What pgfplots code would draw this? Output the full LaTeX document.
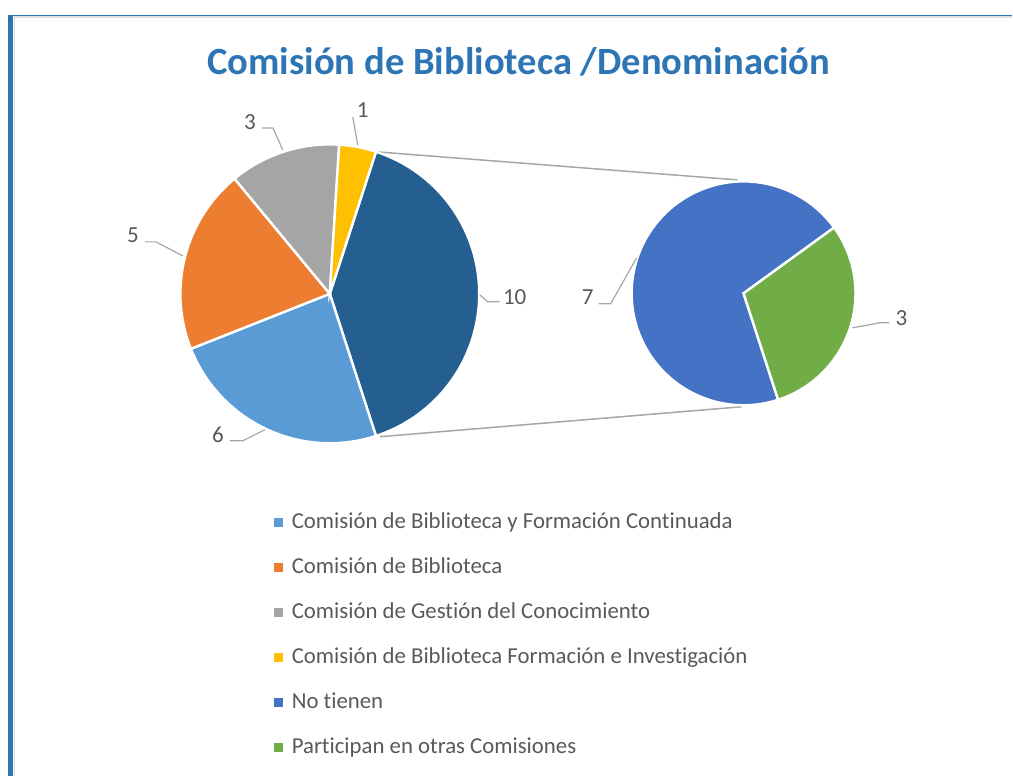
\documentclass[border=0pt]{standalone}
\usepackage{fontspec}
\setmainfont{Carlito}[Ligatures=NoCommon]
\usepackage{pgfplots}
\pgfplotsset{compat=1.18}
\definecolor{cLB}{HTML}{5B9BD5}
\definecolor{cOR}{HTML}{ED7D31}
\definecolor{cGR}{HTML}{A5A5A5}
\definecolor{cYE}{HTML}{FFC000}
\definecolor{cDB}{HTML}{255E91}
\definecolor{cBL}{HTML}{4472C4}
\definecolor{cGN}{HTML}{70AD47}
\definecolor{cTitle}{HTML}{2E75B6}
\definecolor{cTxt}{HTML}{595959}
\definecolor{cLine}{HTML}{A6A6A6}
\pgfplotsset{
  wedge/.style={draw=white, line width=1.2pt, samples=80, forget plot},
  leader/.style={draw=cLine, line width=0.6pt, forget plot},
  legsq/.style={legend image code/.code={\fill[##1, draw=none] (0pt,-2.25pt) rectangle (4.5pt,2.25pt);}},
}
\begin{document}
\begin{tikzpicture}
\begin{axis}[
  scale only axis, width=506.5pt, height=388pt,
  xmin=0, xmax=1013, ymin=0, ymax=776, y dir=reverse,
  hide axis, clip=false,
  legend style={at={(axis cs:274,511)}, anchor=north west, draw=none, fill=none,
    inner sep=0pt, outer sep=0pt, row sep=10.5pt,
    font=\fontsize{11.4}{14}\selectfont\color{cTxt},
    nodes={inner sep=0pt, text height=9pt, text depth=3pt},
    cells={anchor=west},
    /tikz/every odd column/.append style={column sep=4.5pt}},
  legend cell align=left,
]
% frame
\path (axis cs:0,0) rectangle (axis cs:1013,776);
\fill[cTitle] (axis cs:8,15) rectangle (axis cs:13.5,776);
\draw[cTitle, line width=0.6pt] (axis cs:8,15.5) -- (axis cs:1013,15.5);
\draw[black!12, line width=0.6pt] (axis cs:14,17) -- (axis cs:1013,17);
\draw[black!12, line width=0.6pt] (axis cs:14.5,17) -- (axis cs:14.5,776);

% connector lines
\addplot[draw=cLine, line width=0.75pt, forget plot] coordinates {(378,152) (738,180)};
\addplot[draw=cLine, line width=0.75pt, forget plot] coordinates {(380,437) (742,407)};

% main pie: values 10 (other), 6, 5, 3, 1 ; total 25 -> 14.4 deg per unit
\addplot[wedge, fill=cDB, domain=-72:72]        ({330+149.5*cos(x)},{294-149.5*sin(x)}) -- (axis cs:330,294) -- cycle;
\addplot[wedge, fill=cLB, domain=-158.4:-72]    ({330+149.5*cos(x)},{294-149.5*sin(x)}) -- (axis cs:330,294) -- cycle;
\addplot[wedge, fill=cOR, domain=-230.4:-158.4] ({330+149.5*cos(x)},{294-149.5*sin(x)}) -- (axis cs:330,294) -- cycle;
\addplot[wedge, fill=cGR, domain=-273.6:-230.4] ({330+149.5*cos(x)},{294-149.5*sin(x)}) -- (axis cs:330,294) -- cycle;
\addplot[wedge, fill=cYE, domain=-288:-273.6]   ({330+149.5*cos(x)},{294-149.5*sin(x)}) -- (axis cs:330,294) -- cycle;

% secondary pie: values 7, 3 ; total 10 -> 36 deg per unit
\addplot[wedge, fill=cBL, domain=36:288]  ({744+112*cos(x)},{293.5-112*sin(x)}) -- (axis cs:744,293.5) -- cycle;
\addplot[wedge, fill=cGN, domain=-72:36]  ({744+112*cos(x)},{293.5-112*sin(x)}) -- (axis cs:744,293.5) -- cycle;

% leader lines
\addplot[leader] coordinates {(353,117) (358,145)};
\addplot[leader] coordinates {(262,128) (273,128) (283,150)};
\addplot[leader] coordinates {(145,242) (156,242) (183,256)};
\addplot[leader] coordinates {(480,295) (488,302) (500,302)};
\addplot[leader] coordinates {(230,441) (243,441) (265,430)};
\addplot[leader] coordinates {(599,304) (611,304) (637,258)};
\addplot[leader] coordinates {(853,328) (880,323) (890,323)};

% data labels
\begin{scope}[every node/.style={font=\fontsize{11.5}{13}\selectfont, text=cTxt, inner sep=0pt}]
\node at (axis cs:363,110) {1};
\node at (axis cs:250,122) {3};
\node at (axis cs:133,235) {5};
\node at (axis cs:515,297) {10};
\node at (axis cs:218,435) {6};
\node at (axis cs:588,297) {7};
\node at (axis cs:902,318) {3};
\end{scope}

% title
\node[font=\fontsize{19.3}{22}\selectfont\bfseries, text=cTitle] at (axis cs:519,62) {Comisión de Biblioteca /Denominación};

% legend
\addlegendimage{legsq, fill=cLB}
\addlegendentry{Comisión de Biblioteca y Formación Continuada}
\addlegendimage{legsq, fill=cOR}
\addlegendentry{Comisión de Biblioteca}
\addlegendimage{legsq, fill=cGR}
\addlegendentry{Comisión de Gestión del Conocimiento}
\addlegendimage{legsq, fill=cYE}
\addlegendentry{Comisión de Biblioteca Formación e Investigación}
\addlegendimage{legsq, fill=cBL}
\addlegendentry{No tienen}
\addlegendimage{legsq, fill=cGN}
\addlegendentry{Participan en otras Comisiones}
\end{axis}
\end{tikzpicture}
\end{document}
